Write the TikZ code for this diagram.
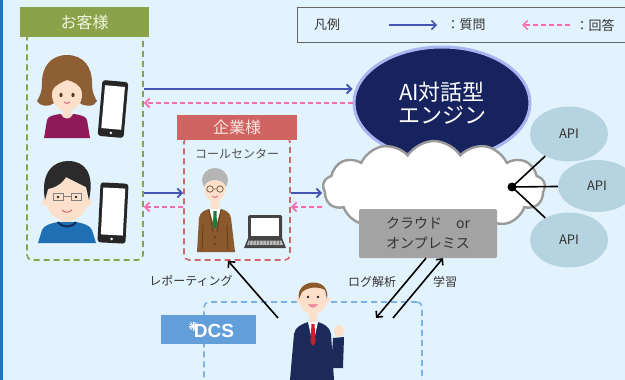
\documentclass[tikz,border=0pt]{standalone}
\usepackage{fontspec}
\setmainfont{Noto Sans CJK JP}
\newfontfamily\logofont{Liberation Sans}
\usetikzlibrary{shapes.geometric,shapes.symbols,arrows.meta}

\definecolor{bgblue}{HTML}{E3F3FD}
\definecolor{stripe}{HTML}{1A78C8}
\definecolor{olive}{HTML}{8AA24A}
\definecolor{olivetext}{HTML}{F1F6E2}
\definecolor{redhdr}{HTML}{CF6460}
\definecolor{redtext}{HTML}{FCE6E3}
\definecolor{reddash}{HTML}{D0686A}
\definecolor{navy}{HTML}{16235F}
\definecolor{navyrim}{HTML}{AAB4F0}
\definecolor{qblue}{HTML}{4555B5}
\definecolor{apink}{HTML}{F56FAE}
\definecolor{cloudgray}{HTML}{9A9A9A}
\definecolor{boxgray}{HTML}{A3A3A3}
\definecolor{darktext}{HTML}{333333}
\definecolor{apifill}{HTML}{B6D4E0}
\definecolor{bluedash}{HTML}{7DB2E8}
\definecolor{logoblue}{HTML}{629ED9}
\definecolor{legendgray}{HTML}{666666}
\definecolor{skin}{HTML}{FCE0CC}
\definecolor{womanhair}{HTML}{8E5E34}
\definecolor{shirtmag}{HTML}{8E1A5A}
\definecolor{phoneblack}{HTML}{262626}
\definecolor{hairblack}{HTML}{2B2B2B}
\definecolor{shirtblue}{HTML}{1F6FB5}
\definecolor{collarnavy}{HTML}{14295C}
\definecolor{hairgray}{HTML}{B5B5B5}
\definecolor{brownsuit}{HTML}{8A5A2E}
\definecolor{darkbrown}{HTML}{5E3B1C}
\definecolor{tiegreen}{HTML}{1E7A3C}
\definecolor{laptopdark}{HTML}{444444}
\definecolor{youngbrown}{HTML}{8B5A2B}
\definecolor{navysuit}{HTML}{1C2A5A}
\definecolor{tiered}{HTML}{C8202E}
\definecolor{mouthpink}{HTML}{E0607A}

\tikzset{
  hdrbox/.style={minimum height=30pt, inner sep=0pt, font=\fontsize{16}{18}\selectfont},
  dashbox/.style={line width=1.6pt, dash pattern=on 6pt off 4pt, rounded corners=5pt, inner sep=0pt},
  qarrow/.style={draw=qblue, line width=1.8pt, -{Straight Barb[length=4.5pt,width=9pt]}},
  aarrow/.style={draw=apink, line width=1.8pt, dash pattern=on 5pt off 3pt, -{Straight Barb[length=4.5pt,width=9pt]}},
  karrow/.style={draw=black, line width=1.6pt, -{Straight Barb[length=4.5pt,width=9pt]}},
  lbl/.style={text=darktext, font=\fontsize{12}{14}\selectfont, inner sep=0pt},
  apinode/.style={ellipse, fill=apifill, minimum width=78pt, minimum height=55pt, inner sep=0pt,
    text=darktext, font=\fontsize{13}{15}\selectfont},
}

\begin{document}
\begin{tikzpicture}[x=1pt,y=-1pt]
\useasboundingbox (0,0) rectangle (625,380);
\fill[bgblue] (0,0) rectangle (625,380);
\fill[stripe] (0,0) rectangle (3,380);

% legend
\draw[legendgray, line width=1pt] (297,7) rectangle (640,42);
\node[lbl, font=\fontsize{13}{15}\selectfont] (legtitle) at (327,25) {凡例};
\coordinate (lq1) at (389,25);
\coordinate (lq2) at (437,25);
\draw[qarrow, line width=1.5pt] (lq1) -- (lq2);
\node[lbl, font=\fontsize{13}{15}\selectfont] (legq) at (466,25) {：質問};
\coordinate (la1) at (570,25);
\coordinate (la2) at (522,25);
\draw[aarrow, line width=1.5pt] (la1) -- (la2);
\node[lbl, font=\fontsize{13}{15}\selectfont] (lega) at (595,25) {：回答};

% customers group
\node[dashbox, draw=olive, minimum width=116pt, minimum height=227pt] (guestbox) at (85,146.5) {};
\node[hdrbox, fill=olive, text=olivetext, minimum width=129pt] (guesthdr) at (84.5,22) {お客様};

% company group
\node[dashbox, draw=reddash, minimum width=106pt, minimum height=123pt] (entbox) at (237,198.5) {};
\node[hdrbox, fill=redhdr, text=redtext, minimum width=120pt, minimum height=25pt] (enthdr) at (237,127.5) {企業様};
\node[lbl, text=darktext!85] (callc) at (237,154) {コールセンター};

% DCS group
\node[dashbox, draw=bluedash, minimum width=218pt, minimum height=200pt] (dcsbox) at (313,402) {};

% AI engine
\node[ellipse, fill=navy, draw=navyrim, line width=3pt, minimum width=176pt, minimum height=112pt,
      text=white, align=center, font=\fontsize{22}{25}\selectfont] (ai) at (442,103) {AI対話型\\[-2pt]エンジン};

% cloud and hosting box
\node[cloud, cloud puffs=13, cloud puff arc=115, aspect=2.3, draw=cloudgray, fill=white,
      line width=2.4pt, minimum width=222pt, minimum height=94pt] (cloud) at (434,188) {};
\node[fill=boxgray, rounded corners=2pt, minimum width=138pt, minimum height=49pt, inner sep=0pt,
      text=darktext, align=center, font=\fontsize{14}{20}\selectfont] (onprem) at (428,233.5)
      {クラウド\quad or\\オンプレミス};

% API endpoints
\node[apinode] (api1) at (569,134) {API};
\node[apinode, minimum height=52pt] (api2) at (597,186) {API};
\node[apinode] (api3) at (569,240) {API};
\node[circle, fill=black, minimum size=9pt, inner sep=0pt] (hub) at (512,187) {};
\draw[line width=1.6pt] (hub.center) -- (api1);
\draw[line width=1.6pt] (hub.center) -- (api2);
\draw[line width=1.6pt] (hub.center) -- (api3);

% question / answer flows
\draw[qarrow] (guestbox.east |- 0,89) -- (ai.west |- 0,89);
\draw[aarrow] (ai.west |- 0,103) -- (guestbox.east |- 0,103);
\draw[qarrow] (guestbox.east |- 0,193) -- (entbox.west |- 0,193);
\draw[aarrow] (entbox.west |- 0,207) -- (guestbox.east |- 0,207);
\draw[qarrow] (entbox.east |- 0,193) -- (332,193 -| cloud.west);
\draw[aarrow] (332,207 -| cloud.west) -- (entbox.east |- 0,207);

% reporting, log analysis and learning
\coordinate (reptail) at (278,318);
\draw[karrow] (reptail) -- (228,0 |- entbox.south);
\node[lbl] (replbl) at (191,281) {レポーティング};
\coordinate (logend) at (376,318);
\draw[karrow] (426,0 |- onprem.south) -- (logend);
\node[lbl] (loglbl) at (372,282) {ログ解析};
\coordinate (learntail) at (393,318);
\draw[karrow] (learntail) -- (443,0 |- onprem.south);
\node[lbl] (learnlbl) at (445,282) {学習};

% DCS logo
\node[fill=logoblue, minimum width=95pt, minimum height=29pt, inner sep=0pt] (logo) at (208.5,329.5) {};
\node[text=white, font=\logofont\bfseries\fontsize{19}{20}\selectfont, inner sep=0pt] (logotext) at (214,331) {DCS};
\foreach \a in {0,30,...,330}
  \draw[white, line width=0.7pt] (193,326) -- ++(\a:4.5);
\fill[white] (193,326) circle (1.6);

% woman with smartphone
\fill[womanhair] (67,55) .. controls (50,55) and (42,68) .. (42,82)
   .. controls (42,92) and (40,96) .. (37,101) .. controls (40,107) and (50,107) .. (54,103)
   -- (80,103) .. controls (84,107) and (95,107) .. (97,101)
   .. controls (94,96) and (92,92) .. (92,82) .. controls (92,68) and (84,55) .. (67,55) -- cycle;
\fill[skin] (67,95) ellipse (15 and 16);
\fill[womanhair] (51,93) .. controls (49,72) and (85,72) .. (83,93)
   .. controls (80,84) and (72,81) .. (67,80) .. controls (62,82) and (54,85) .. cycle;
\fill[darkbrown] (61,95) ellipse (1.6 and 2.2) (73,95) ellipse (1.6 and 2.2);
\draw[mouthpink, line width=1pt] (64,102) .. controls (66,104) and (68,104) .. (70,102);
\fill[skin] (63,108) rectangle (71,116);
\fill[shirtmag] (44,138) -- (47,120) .. controls (48,116) and (54,115) .. (60,114) -- (74,114)
   .. controls (80,115) and (86,116) .. (87,120) -- (90,138) -- cycle;
\fill[skin] (61,114) .. controls (63,120) and (71,120) .. (73,114) -- cycle;
\begin{scope}[shift={(113,109)}, rotate=-5]
  \fill[phoneblack, rounded corners=3pt] (-13,-28) rectangle (13,28);
  \fill[white] (-10,-23) rectangle (10,20);
  \fill[white] (0,24) circle (1.4);
\end{scope}

% man with smartphone
\fill[skin] (46,202) circle (4) (88,202) circle (4);
\fill[skin] (67,199) ellipse (21 and 22);
\fill[hairblack] (45,200) .. controls (40,172) and (54,161) .. (68,161)
   .. controls (84,161) and (95,172) .. (89,200) -- (86,187)
   .. controls (80,184) and (72,180) .. (66,177) .. controls (62,184) and (54,188) .. (48,189) -- cycle;
\draw[gray, line width=0.8pt] (53,193) rectangle (63,200) (71,193) rectangle (81,200) (63,196) -- (71,196);
\fill[hairblack] (58,197) circle (1.3) (76,197) circle (1.3);
\draw[mouthpink, line width=1pt] (62,210) .. controls (65,213) and (69,213) .. (72,210);
\fill[skin] (62,219) rectangle (72,226);
\fill[shirtblue] (38,243) -- (42,230) .. controls (44,225) and (52,223) .. (58,222) -- (76,222)
   .. controls (82,223) and (90,225) .. (92,230) -- (96,243) -- cycle;
\draw[collarnavy, line width=2pt] (58,222) .. controls (62,228) and (72,228) .. (76,222);
\begin{scope}[shift={(113,213)}, rotate=-3]
  \fill[phoneblack, rounded corners=3pt] (-14,-30) rectangle (14,30);
  \fill[white] (-11,-25) rectangle (11,22);
  \fill[white] (0,26) circle (1.4);
\end{scope}

% call-center operator
\fill[hairgray] (215,180) ellipse (13 and 12);
\fill[skin] (215,189) ellipse (10.5 and 13);
\fill[hairgray] (204,186) .. controls (203,170) and (227,170) .. (226,186)
   .. controls (222,178) and (208,178) .. cycle;
\draw[darkbrown!80, line width=0.8pt] (210,189) circle (3.2) (220,189) circle (3.2) (213.2,189) -- (216.8,189);
\draw[mouthpink, line width=0.8pt] (212,196) .. controls (214,198) and (216,198) .. (218,196);
\fill[skin] (211,199) rectangle (219,210);
\fill[brownsuit] (197,252) -- (199,218) .. controls (200,212) and (205,210) .. (209,209) -- (221,209)
   .. controls (225,210) and (230,212) .. (231,218) -- (235,252) -- cycle;
\fill[white] (209,209) -- (215,229) -- (221,209) -- cycle;
\fill[tiegreen] (213.5,211) -- (216.5,211) -- (217,226) -- (215,229) -- (213,226) -- cycle;
\draw[darkbrown, line width=0.8pt] (209,209) -- (213,232) (221,209) -- (217,232)
   (203,225) -- (202,250) (227,225) -- (228,250);
\fill[darkbrown] (215,237) circle (1) (215,244) circle (1);
% laptop
\fill[laptopdark, rounded corners=1.5pt] (248,215) rectangle (282,239);
\fill[white] (251,218) rectangle (279,236);
\fill[laptopdark] (244,248) -- (248,238) -- (282,238) -- (286,248) -- cycle;
\fill[gray!55] (248.5,240.5) -- (281.5,240.5) -- (283,245) -- (247,245) -- cycle;
\foreach \k in {0,...,9}
  \draw[laptopdark, line width=0.4pt] (250+3.3*\k,240.5) -- (249.5+3.3*\k,245);

% DCS staff member
\fill[skin] (299,300) circle (3) (327,300) circle (3);
\fill[skin] (313,299) ellipse (14 and 15);
\fill[youngbrown] (299,299) .. controls (295,278) and (331,276) .. (327,299) -- (325,290)
   .. controls (318,286) and (308,287) .. (302,292) -- cycle;
\fill[hairblack] (308,297) circle (1.3) (318,297) circle (1.3);
\fill[mouthpink!70!white] (308,304) .. controls (310,309) and (316,309) .. (318,304) -- cycle;
\fill[skin] (309,312) rectangle (317,322);
\fill[navysuit] (290,380) -- (294,334) .. controls (295,327) and (302,324) .. (308,322) -- (318,322)
   .. controls (324,324) and (330,327) .. (331,334) -- (334,380) -- cycle;
\fill[navysuit] (331,368) -- (333,338) -- (344,337) -- (343,368) -- cycle;
\fill[skin] (339,331) ellipse (5 and 6);
\fill[white] (308,322) -- (313,345) -- (318,322) -- cycle;
\fill[tiered] (311.5,324) -- (314.5,324) -- (315.5,342) -- (313,346) -- (310.5,342) -- cycle;
\end{tikzpicture}
\end{document}
